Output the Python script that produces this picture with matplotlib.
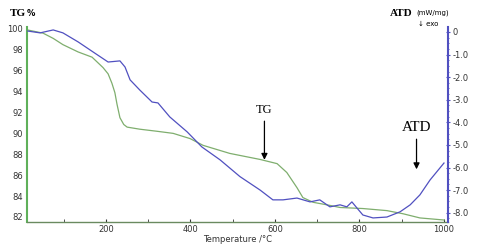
import matplotlib
matplotlib.use("Agg")
import matplotlib.pyplot as plt
from matplotlib.ticker import MultipleLocator, FixedLocator

temp_tg = [15, 51, 75, 98, 134, 167, 193, 205, 214, 221, 226, 233, 242, 250, 280, 321, 359, 399, 430,
           493, 565, 605, 628, 652, 666, 690, 730, 754, 808, 865, 903, 943, 1000]
tg = [99.9, 99.6, 99.1, 98.5, 97.8, 97.3, 96.3, 95.7, 94.8, 93.9, 92.8, 91.5, 90.85, 90.6, 90.4, 90.2, 90.0,
      89.5, 88.85, 88.08, 87.5, 87.1, 86.25, 84.8, 83.85, 83.4, 83.1, 82.9, 82.8, 82.6,
      82.3, 81.9, 81.7]

temp_atd = [15, 44, 75, 98, 134, 169, 205, 233, 245, 257, 280, 309, 323, 351, 392, 427,
            470, 517, 565, 595, 619, 652, 683, 706, 730, 754, 770, 782, 794, 808, 832,
            865, 896, 920, 943, 967, 1000]
atd = [0.04, -0.04, 0.09, -0.04, -0.44, -0.88, -1.33, -1.28, -1.55, -2.12, -2.57, -3.1,
       -3.14, -3.76, -4.42, -5.09, -5.66, -6.4, -7.0, -7.43, -7.43, -7.35, -7.52, -7.43,
       -7.74, -7.65, -7.74, -7.52, -7.79, -8.1, -8.23, -8.19, -7.96, -7.65, -7.21, -6.55,
       -5.8]

tg_ticks = [82, 84, 86, 88, 90, 92, 94, 96, 98, 100]
atd_ticks = [0, -1, -2, -3, -4, -5, -6, -7, -8]
atd_labels = ["0", "-1.0", "-2.0", "-3.0", "-4.0", "-5.0", "-6.0", "-7.0", "-8.0"]
x_ticks = [200, 400, 600, 800, 1000]

green = "#7fae6e"
green_spine = "#5fb05a"
blue = "#5050c0"

fig = plt.figure(figsize=(4.8, 2.45), dpi=100)
ax = fig.add_axes([27/480, 1-222/245, (448-27)/480, (222-27)/245])
ax2 = ax.twinx()

ax.plot(temp_tg, tg, color=green, lw=0.9)
ax2.plot(temp_atd, atd, color=blue, lw=0.9)

ax.set_xlim(13, 1009.5)
ax.set_ylim(81.51, 100.19)
ax2.set_ylim(-8.41, 0.22)

ax.set_xticks(x_ticks)
ax.xaxis.set_minor_locator(FixedLocator([100, 300, 500, 700, 900]))
ax.set_yticks(tg_ticks)
ax.set_yticklabels([str(t) for t in tg_ticks])
ax2.set_yticks(atd_ticks)
ax2.set_yticklabels(atd_labels)
ax2.yaxis.set_minor_locator(MultipleLocator(0.25))

for a in (ax, ax2):
    a.spines['top'].set_visible(False)
ax.spines['right'].set_visible(False)
ax2.spines['left'].set_visible(False)
ax2.spines['bottom'].set_visible(False)
ax.spines['left'].set_color(green_spine)
ax.spines['left'].set_linewidth(1.5)
ax.spines['bottom'].set_color("#6a8a60")
ax.spines['bottom'].set_linewidth(1.0)
ax2.spines['right'].set_color(blue)
ax2.spines['right'].set_linewidth(1.5)

ax.tick_params(axis='y', length=0, labelsize=6, pad=3, labelcolor="#333333")
ax.tick_params(axis='x', which='major', direction='in', length=2.5, labelsize=6,
               pad=2, color="#333333", labelcolor="#333333")
ax.tick_params(axis='x', which='minor', direction='in', length=2, color="#333333")
ax2.tick_params(axis='y', which='major', direction='inout', length=3, labelsize=6,
                pad=2, color=blue, labelcolor="#333333")
ax2.tick_params(axis='y', which='minor', direction='inout', length=2, color=blue)

ax.set_xlabel("Temperature /°C", fontsize=6, labelpad=1, color="#333333")

fig.text(10/480, 1-13/245, "TG", fontsize=8, fontweight='bold', family='Liberation Serif',
         va='center', ha='left')
fig.text(27/480, 1-13/245, "%", fontsize=6, fontweight='bold', va='center', ha='left')
fig.text(413/480, 1-13/245, "ATD", fontsize=8, fontweight='bold', family='Liberation Serif',
         va='center', ha='right')
fig.text(416/480, 1-13/245, "(mW/mg)", fontsize=5, va='center', ha='left')
fig.text(428/480, 1-24/245, "↓ exo", fontsize=5, va='center', ha='center')

ax.annotate("TG", xy=(575, 87.2), xytext=(575, 91.7), fontsize=9,
            family='Liberation Serif', ha='center', va='bottom',
            arrowprops=dict(arrowstyle='-|>', color='black', lw=0.9, mutation_scale=9))
ax2.annotate("ATD", xy=(935, -6.2), xytext=(935, -4.5), fontsize=11,
             family='Liberation Serif', ha='center', va='bottom',
             arrowprops=dict(arrowstyle='-|>', color='black', lw=0.9, mutation_scale=9))

fig.savefig("out.png", dpi=100)
